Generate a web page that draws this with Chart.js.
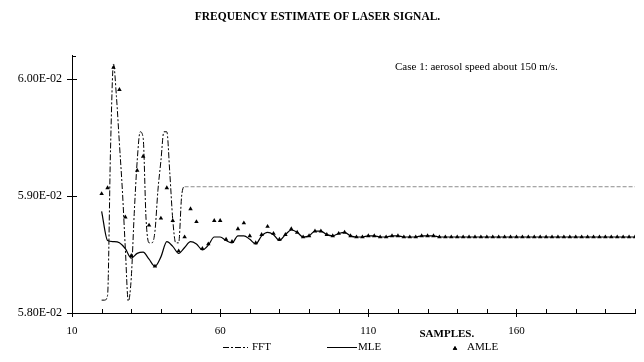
<!DOCTYPE html>
<html>
<head>
<meta charset="utf-8">
<script src="https://cdn.jsdelivr.net/npm/chart.js@4.4.0/dist/chart.umd.min.js"></script>
<style>
  html, body { margin: 0; padding: 0; background: #fff; }
  #wrap { width: 644px; height: 362px; }
</style>
</head>
<body>
<div id="wrap"><canvas id="chart-area"></canvas></div>
<script>
// sample numbers (AMLE / MLE are estimated every second sample)
var samples = [20,22,24,26,28,30,32,34,36,38,40,42,44,46,48,50,52,54,56,58,
    60,62,64,66,68,70,72,74,76,78,80,82,84,86,88,90,92,94,96,98,
    100,102,104,106,108,110,112,114,116,118,120,122,124,126,128,130,132,134,136,138,
    140,142,144,146,148,150,152,154,156,158,160,162,164,166,168,170,172,174,176,178,
    180,182,184,186,188,190,192,194,196,198,200];

var amle = [0.05902,0.05907,0.06010,0.05991,0.05882,0.05849,0.05922,0.05934,0.05875,0.05840,
    0.05881,0.05907,0.05879,0.05853,0.05865,0.05889,0.05878,0.05855,0.05859,0.05879,
    0.05879,0.05863,0.05861,0.05872,0.05877,0.05866,0.05860,0.05867,0.05874,0.05868,
    0.05863,0.05867,0.05872,0.05869,0.05865,0.05866,0.05870,0.05870,0.05867,0.05866,
    0.05868,0.05869,0.05866,0.05865,0.05865,0.05866,0.05866,0.05865,0.05865,0.05866,
    0.05866,0.05865,0.05865,0.05865,0.05866,0.05866,0.05866,0.05865,0.05865,0.05865,
    0.05865,0.05865,0.05865,0.05865,0.05865,0.05865,0.05865,0.05865,0.05865,0.05865,
    0.05865,0.05865,0.05865,0.05865,0.05865,0.05865,0.05865,0.05865,0.05865,0.05865,
    0.05865,0.05865,0.05865,0.05865,0.05865,0.05865,0.05865,0.05865,0.05865,0.05865,
    0.05865];

var mle = [0.05887,0.05862,0.05861,0.05860,0.05855,0.05847,0.05851,0.05852,0.05846,0.05840,
    0.05848,0.05861,0.05857,0.05851,0.05856,0.05861,0.05859,0.05854,0.05858,0.05865,
    0.05865,0.05862,0.05860,0.05866,0.05866,0.05863,0.05859,0.05866,0.05869,0.05867,
    0.05862,0.05867,0.05871,0.05869,0.05865,0.05866,0.05870,0.05870,0.05867,0.05866,
    0.05868,0.05869,0.05866,0.05865,0.05865,0.05866,0.05866,0.05865,0.05865,0.05866,
    0.05866,0.05865,0.05865,0.05865,0.05866,0.05866,0.05866,0.05865,0.05865,0.05865,
    0.05865,0.05865,0.05865,0.05865,0.05865,0.05865,0.05865,0.05865,0.05865,0.05865,
    0.05865,0.05865,0.05865,0.05865,0.05865,0.05865,0.05865,0.05865,0.05865,0.05865,
    0.05865,0.05865,0.05865,0.05865,0.05865,0.05865,0.05865,0.05865,0.05865,0.05865,
    0.05865];

// FFT estimate: every sample while it oscillates, then it stays put
var fftSamples = [20,21,22,23,24,25,26,27,28,29,30,31,32,33,34,35,36,37,38,39,
    40,41,42,43,44,45,46,47,48,200];
var fft = [0.05811,0.05811,0.05815,0.05940,0.06013,0.05985,0.05945,0.05905,0.05855,0.05810,
    0.05830,0.05885,0.05930,0.05955,0.05950,0.05880,0.05860,0.05860,0.05870,0.05905,
    0.05930,0.05955,0.05955,0.05920,0.05880,0.05860,0.05860,0.05900,0.05908,0.05908];

var xTicks = [10,20,30,40,50,60,70,80,90,100,110,120,130,140,150,160,170,180,190,200];
var xLabels = [10,60,110,160];
var yTicks = [0.058,0.059,0.060];
var yTop = 0.0602;

var serif = "'Liberation Serif', 'DejaVu Serif', serif";

function sciLabel(v) {
    var parts = v.toExponential(2).split('e');
    var e = parseInt(parts[1], 10);
    return parts[0] + 'E' + (e < 0 ? '-' : '+') + String(Math.abs(e)).padStart(2, '0');
}

function pairs(xs, ys) {
    return xs.map(function (x, i) { return { x: x, y: ys[i] }; });
}

// small tick marks: major ones cross the axis, minor ones point inwards
var tickMarks = {
    id: 'tickMarks',
    afterDatasetsDraw: function (chart) {
        var ctx = chart.ctx, x = chart.scales.x, y = chart.scales.y;
        ctx.save();
        ctx.strokeStyle = '#000';
        ctx.lineWidth = 1;
        ctx.beginPath();
        xTicks.forEach(function (v) {
            var px = Math.round(x.getPixelForValue(v)) + 0.5;
            var major = xLabels.indexOf(v) >= 0;
            ctx.moveTo(px, y.bottom - 4);
            ctx.lineTo(px, y.bottom + (major ? 4 : 0));
        });
        yTicks.forEach(function (v) {
            var py = Math.round(y.getPixelForValue(v)) + 0.5;
            ctx.moveTo(x.left - 5, py);
            ctx.lineTo(x.left + 5, py);
        });
        var pt = Math.round(y.getPixelForValue(yTop)) + 0.5;
        ctx.moveTo(x.left, pt);
        ctx.lineTo(x.left + 4, pt);
        ctx.stroke();
        ctx.restore();
    }
};

// axis name, note and legend row, laid out like the original sheet
var extras = {
    id: 'extras',
    afterDraw: function (chart) {
        var ctx = chart.ctx, area = chart.chartArea, x = chart.scales.x;
        ctx.save();
        ctx.fillStyle = '#000';
        ctx.textBaseline = 'middle';

        ctx.font = 'bold 11px ' + serif;
        ctx.textAlign = 'center';
        ctx.fillText('SAMPLES.', x.getPixelForValue(136.5), area.bottom + 21);

        ctx.font = '11px ' + serif;
        ctx.textAlign = 'left';
        ctx.fillText('Case 1: aerosol speed about 150 m/s.', area.right - 240, area.top + 11);

        var ly = area.bottom + 34.5;
        var ds = chart.data.datasets;
        ctx.lineWidth = 1;
        ctx.strokeStyle = '#000';

        // FFT
        ctx.setLineDash(ds[0].borderDash);
        ctx.beginPath();
        ctx.moveTo(area.left + 151, ly);
        ctx.lineTo(area.left + 176, ly);
        ctx.stroke();
        ctx.setLineDash([]);
        ctx.fillText(ds[0].label, area.left + 180, ly);

        // MLE
        ctx.beginPath();
        ctx.moveTo(area.left + 255, ly);
        ctx.lineTo(area.left + 285, ly);
        ctx.stroke();
        ctx.fillText(ds[1].label, area.left + 286, ly);

        // AMLE
        Chart.helpers.drawPoint(ctx, {
            pointStyle: 'triangle', radius: 2.6, rotation: 0, borderWidth: 0
        }, area.left + 383, ly + 1);
        ctx.fill();
        ctx.fillText(ds[2].label, area.left + 395, ly);
        ctx.restore();
    }
};

var config = {
    type: 'line',
    data: {
        datasets: [{
            label: 'FFT',
            data: pairs(fftSamples, fft),
            borderColor: '#000',
            borderWidth: 1,
            borderDash: [6, 2, 2, 2],
            pointRadius: 0,
            cubicInterpolationMode: 'monotone',
            segment: {
                borderColor: function (c) { return c.p0DataIndex >= fft.length - 2 ? '#8c8c8c' : undefined; },
                borderDash: function (c) { return c.p0DataIndex >= fft.length - 2 ? [4, 2] : undefined; }
            }
        }, {
            label: 'MLE',
            data: pairs(samples, mle),
            borderColor: '#000',
            borderWidth: 1.2,
            pointRadius: 0,
            cubicInterpolationMode: 'monotone'
        }, {
            label: 'AMLE',
            data: pairs(samples, amle),
            showLine: false,
            pointStyle: 'triangle',
            pointRadius: 2.6,
            pointBorderWidth: 0,
            pointBackgroundColor: '#000',
            pointBorderColor: '#000'
        }]
    },
    options: {
        responsive: true,
        maintainAspectRatio: false,
        animation: false,
        layout: { padding: { left: 0, right: 9, top: 0, bottom: 24 } },
        plugins: {
            legend: { display: false },
            tooltip: { enabled: false },
            title: {
                display: true,
                text: 'FREQUENCY ESTIMATE OF LASER SIGNAL.',
                color: '#000',
                font: { family: serif, size: 11.5, weight: 'bold' },
                padding: { top: 10, bottom: 32 }
            }
        },
        scales: {
            x: {
                type: 'linear',
                min: 10,
                max: 200,
                afterBuildTicks: function (s) { s.ticks = xTicks.map(function (v) { return { value: v }; }); },
                afterFit: function (s) { s.height = 25; },
                ticks: {
                    autoSkip: false,
                    maxRotation: 0,
                    padding: 6,
                    color: '#000',
                    font: { family: serif, size: 11 },
                    callback: function (v) { return xLabels.indexOf(v) >= 0 ? String(v) : ''; }
                },
                grid: { drawOnChartArea: false, color: 'transparent', tickLength: 6 },
                border: { display: true, color: '#000', width: 1 }
            },
            y: {
                min: 0.058,
                max: yTop,
                afterBuildTicks: function (s) { s.ticks = yTicks.map(function (v) { return { value: v }; }); },
                afterFit: function (s) { s.width = 72; },
                ticks: {
                    padding: 5,
                    color: '#000',
                    font: { family: serif, size: 12 },
                    callback: function (v) { return sciLabel(v); }
                },
                grid: { drawOnChartArea: false, color: 'transparent', tickLength: 5 },
                border: { display: true, color: '#000', width: 1 }
            }
        }
    },
    plugins: [tickMarks, extras]
};

var ctx = document.getElementById('chart-area').getContext('2d');
var myChart = new Chart(ctx, config);
</script>
</body>
</html>
